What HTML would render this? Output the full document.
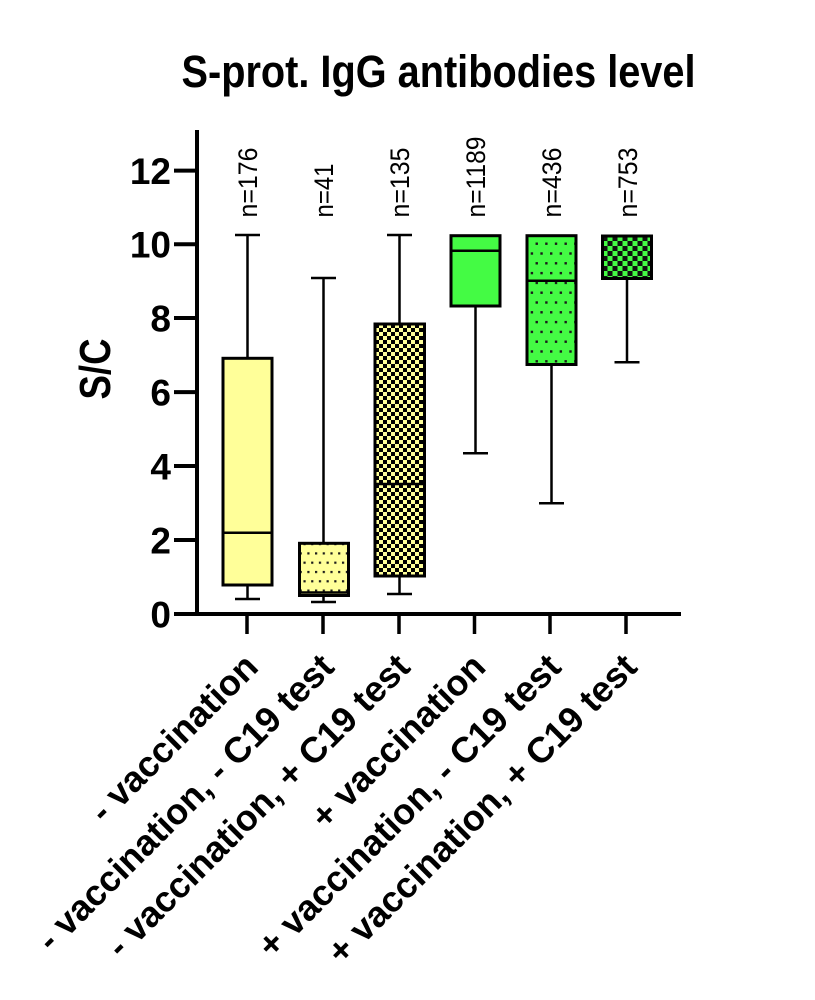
<!DOCTYPE html>
<html>
<head>
<meta charset="utf-8">
<style>
  html, body { margin: 0; padding: 0; background: #ffffff; }
  svg { display: block; }
  text { font-family: "Liberation Sans", Arial, sans-serif; fill: #000; }
</style>
</head>
<body>
<svg width="815" height="1000" viewBox="0 0 815 1000" xmlns="http://www.w3.org/2000/svg">
  <defs>
    <pattern id="dots2" patternUnits="userSpaceOnUse" x="307.3" y="552.3" width="7.7" height="18.6">
      <rect x="0" y="0" width="2.2" height="2.2" fill="#1a1a1a"/>
      <rect x="3.85" y="9.3" width="2.2" height="2.2" fill="#1a1a1a"/>
    </pattern>
    <pattern id="dots5" patternUnits="userSpaceOnUse" x="530.7" y="350.3" width="9.65" height="19.6">
      <rect x="0" y="0" width="2.4" height="2.4" fill="#1a1a1a"/>
      <rect x="4.83" y="9.8" width="2.4" height="2.4" fill="#1a1a1a"/>
    </pattern>
    <pattern id="check3" patternUnits="userSpaceOnUse" x="375" y="324" width="8" height="8">
      <rect x="0" y="0" width="4" height="4" fill="#000"/>
      <rect x="4" y="4" width="4" height="4" fill="#000"/>
    </pattern>
    <pattern id="check6" patternUnits="userSpaceOnUse" x="602.5" y="236" width="10" height="10">
      <rect x="0" y="0" width="5" height="5" fill="#111"/>
      <rect x="5" y="5" width="5" height="5" fill="#111"/>
    </pattern>
  </defs>

  <!-- Title -->
  <text x="438.5" y="87" font-size="45" font-weight="bold" text-anchor="middle" textLength="514" lengthAdjust="spacingAndGlyphs">S-prot. IgG antibodies level</text>

  <!-- Y label -->
  <text transform="translate(110,369) rotate(-90)" font-size="44" font-weight="bold" text-anchor="middle" textLength="61" lengthAdjust="spacingAndGlyphs">S/C</text>

  <!-- Y tick labels -->
  <g font-size="37" font-weight="bold" text-anchor="end">
    <text x="171" y="183.9">12</text>
    <text x="171" y="257.6">10</text>
    <text x="171" y="331.3">8</text>
    <text x="171" y="405.4">6</text>
    <text x="171" y="479.3">4</text>
    <text x="171" y="553.3">2</text>
    <text x="171" y="627.3">0</text>
  </g>

  <!-- Axes -->
  <g stroke="#000" stroke-width="4" fill="none">
    <line x1="197" y1="130" x2="197" y2="616"/>
    <line x1="195" y1="614" x2="681" y2="614"/>
    <line x1="174" y1="170.6" x2="197" y2="170.6"/>
    <line x1="174" y1="244.3" x2="197" y2="244.3"/>
    <line x1="174" y1="318" x2="197" y2="318"/>
    <line x1="174" y1="392.1" x2="197" y2="392.1"/>
    <line x1="174" y1="466" x2="197" y2="466"/>
    <line x1="174" y1="540" x2="197" y2="540"/>
    <line x1="174" y1="614" x2="197" y2="614"/>
  </g>
  <g stroke="#000" stroke-width="3.5">
    <line x1="247" y1="614" x2="247" y2="634"/>
    <line x1="323" y1="614" x2="323" y2="634"/>
    <line x1="399" y1="614" x2="399" y2="634"/>
    <line x1="474.5" y1="614" x2="474.5" y2="634"/>
    <line x1="550" y1="614" x2="550" y2="634"/>
    <line x1="626" y1="614" x2="626" y2="634"/>
  </g>

  <!-- Whiskers -->
  <g stroke="#000" stroke-width="2.5" fill="none">
    <line x1="247.5" y1="235" x2="247.5" y2="358"/>
    <line x1="235" y1="235" x2="260" y2="235"/>
    <line x1="247.5" y1="585" x2="247.5" y2="599"/>
    <line x1="235" y1="599" x2="260" y2="599"/>
    <line x1="323.5" y1="278" x2="323.5" y2="543"/>
    <line x1="311" y1="278" x2="336" y2="278"/>
    <line x1="323.5" y1="596" x2="323.5" y2="602"/>
    <line x1="311" y1="602" x2="336" y2="602"/>
    <line x1="399.5" y1="235" x2="399.5" y2="324"/>
    <line x1="387" y1="235" x2="412" y2="235"/>
    <line x1="399.5" y1="576" x2="399.5" y2="594"/>
    <line x1="387" y1="594" x2="412" y2="594"/>
    <line x1="475.5" y1="306" x2="475.5" y2="453.3"/>
    <line x1="463" y1="453.3" x2="488" y2="453.3"/>
    <line x1="551.5" y1="364.5" x2="551.5" y2="503.3"/>
    <line x1="539" y1="503.3" x2="564" y2="503.3"/>
    <line x1="627" y1="278.5" x2="627" y2="362.3"/>
    <line x1="614.5" y1="362.3" x2="639.5" y2="362.3"/>
  </g>

  <!-- Boxes -->
  <rect x="223" y="358.3" width="49" height="226.7" fill="#ffff99" stroke="#000" stroke-width="3"/>
  <line x1="223" y1="532.7" x2="272" y2="532.7" stroke="#000" stroke-width="2.5"/>
  <rect x="299.5" y="543.3" width="49" height="52.2" fill="#ffff99"/>
  <rect x="299.5" y="543.3" width="49" height="52.2" fill="url(#dots2)" stroke="#000" stroke-width="3"/>
  <line x1="299.5" y1="592.5" x2="348.5" y2="592.5" stroke="#000" stroke-width="2.5"/>
  <rect x="375" y="324" width="49.5" height="252" fill="#ffff99"/>
  <rect x="375" y="324" width="49.5" height="252" fill="url(#check3)" stroke="#000" stroke-width="3"/>
  <line x1="375" y1="484" x2="424.5" y2="484" stroke="#000" stroke-width="2.5"/>
  <rect x="451" y="235.7" width="49" height="70.3" fill="#44fb44" stroke="#000" stroke-width="3"/>
  <line x1="451" y1="250.7" x2="500" y2="250.7" stroke="#000" stroke-width="2.5"/>
  <rect x="527" y="235.7" width="49" height="128.8" fill="#44fb44"/>
  <rect x="527" y="235.7" width="49" height="128.8" fill="url(#dots5)" stroke="#000" stroke-width="3"/>
  <line x1="527" y1="280.7" x2="576" y2="280.7" stroke="#000" stroke-width="2.5"/>
  <rect x="602.5" y="236" width="49" height="42.5" fill="#44fb44"/>
  <rect x="602.5" y="236" width="49" height="42.5" fill="url(#check6)" stroke="#000" stroke-width="3"/>

  <!-- n labels -->
  <g font-size="27">
    <text transform="translate(257,217.5) rotate(-90)" textLength="70" lengthAdjust="spacingAndGlyphs">n=176</text>
    <text transform="translate(333,217.5) rotate(-90)" textLength="54" lengthAdjust="spacingAndGlyphs">n=41</text>
    <text transform="translate(409,217.5) rotate(-90)" textLength="70" lengthAdjust="spacingAndGlyphs">n=135</text>
    <text transform="translate(485,217.5) rotate(-90)" textLength="81" lengthAdjust="spacingAndGlyphs">n=1189</text>
    <text transform="translate(561,217.5) rotate(-90)" textLength="70" lengthAdjust="spacingAndGlyphs">n=436</text>
    <text transform="translate(637,217.5) rotate(-90)" textLength="70" lengthAdjust="spacingAndGlyphs">n=753</text>
  </g>

  <!-- X labels -->
  <g font-size="36" font-weight="bold" text-anchor="end">
    <text transform="translate(260,669) rotate(-45)">- vaccination</text>
    <text transform="translate(336,669) rotate(-45)">- vaccination, - C19 test</text>
    <text transform="translate(412,669) rotate(-45)">- vaccination, + C19 test</text>
    <text transform="translate(487.5,669) rotate(-45)">+ vaccination</text>
    <text transform="translate(563,669) rotate(-45)">+ vaccination, - C19 test</text>
    <text transform="translate(639,669) rotate(-45)">+ vaccination, + C19 test</text>
  </g>
</svg>
</body>
</html>
